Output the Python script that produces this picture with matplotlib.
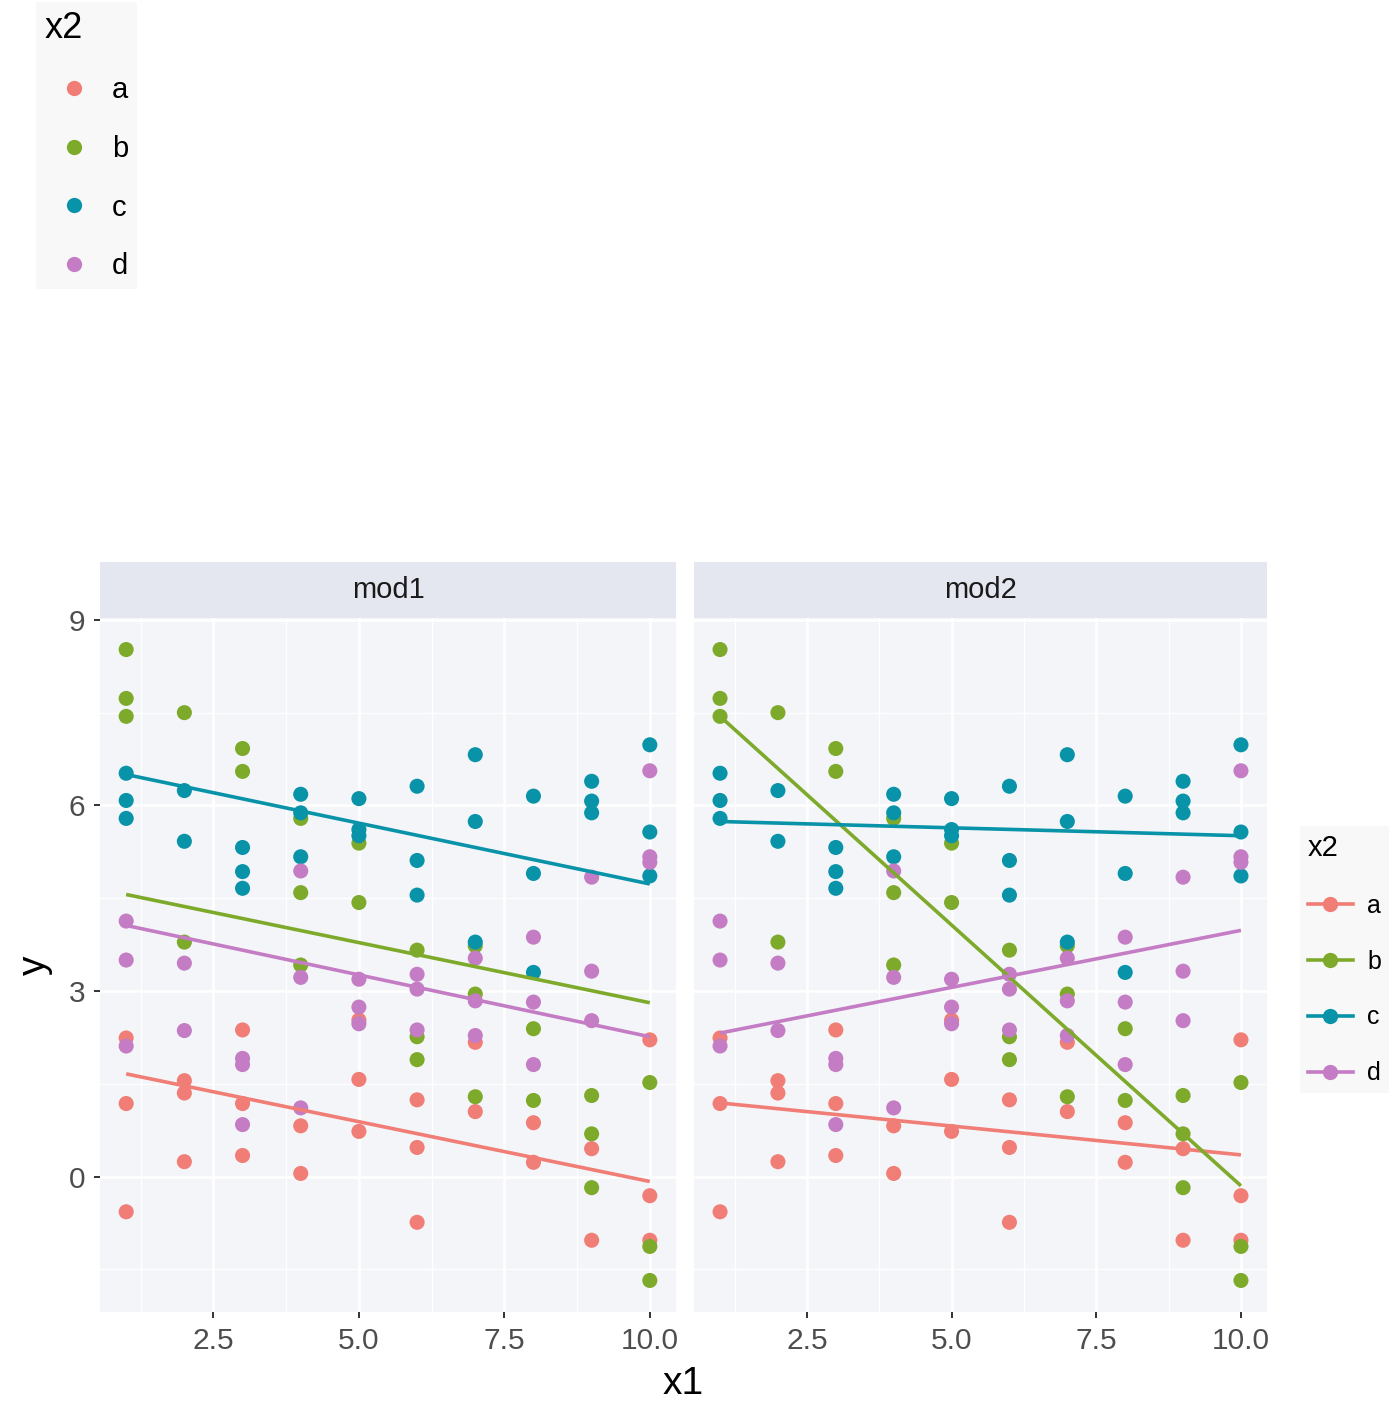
import matplotlib.pyplot as plt
from matplotlib.lines import Line2D

plt.rcParams['font.family'] = ['Liberation Sans', 'DejaVu Sans']

W, H = 1398, 1401

groups = ['a', 'b', 'c', 'd']
colors = ['#F07E76', '#7EAA2C', '#0993A9', '#C47DC4']
models = ['mod1', 'mod2']

# observations per group (x1, y)
a_x = [1, 1, 1, 2, 2, 2, 3, 3, 3, 4, 4, 5, 5, 5, 6, 6, 6, 7, 7, 8, 8, 9, 9, 10, 10, 10]
a_y = [2.24, 1.18, -0.57, 1.55, 1.35, 0.24, 2.37, 1.18, 0.34, 0.82, 0.05, 2.53, 1.57, 0.73,
       1.24, 0.47, -0.74, 2.17, 1.05, 0.87, 0.23, 0.45, -1.03, 2.21, -0.31, -1.03]
b_x = [1, 1, 1, 2, 2, 3, 3, 4, 4, 4, 5, 5, 6, 6, 6, 7, 7, 7, 8, 8, 9, 9, 9, 10, 10, 10]
b_y = [8.52, 7.73, 7.44, 7.50, 3.79, 6.92, 6.55, 5.79, 4.59, 3.42, 5.39, 4.43, 3.66, 2.26, 1.89,
       3.73, 2.95, 1.29, 2.39, 1.23, 1.31, 0.69, -0.18, 1.52, -1.13, -1.68]
c_x = [1, 1, 1, 2, 2, 3, 3, 3, 4, 4, 4, 5, 5, 5, 6, 6, 6, 7, 7, 7, 8, 8, 8, 9, 9, 9, 10, 10, 10]
c_y = [6.52, 6.08, 5.79, 6.24, 5.42, 5.32, 4.93, 4.66, 6.18, 5.88, 5.17, 6.11, 5.61, 5.51,
       6.31, 5.11, 4.55, 6.82, 5.74, 3.79, 6.15, 4.90, 3.30, 6.39, 6.07, 5.88, 6.98, 5.57, 4.86]
d_x = [1, 1, 1, 2, 2, 3, 3, 3, 4, 4, 4, 5, 5, 5, 6, 6, 6, 7, 7, 7, 8, 8, 8, 9, 9, 9, 10, 10, 10]
d_y = [4.13, 3.50, 2.11, 3.45, 2.36, 1.91, 1.81, 0.84, 4.94, 3.22, 1.11, 3.19, 2.74, 2.47,
       3.27, 3.03, 2.37, 3.53, 2.84, 2.28, 3.87, 2.82, 1.81, 4.84, 3.32, 2.52, 6.56, 5.17, 5.08]

xs = [a_x, b_x, c_x, d_x]
ys = [a_y, b_y, c_y, d_y]

# fitted values at x1 = 1 and x1 = 10, per group (a, b, c, d)
fit_x = [1, 10]
mod1_start = [1.66, 4.56, 6.50, 4.06]
mod1_end = [-0.08, 2.81, 4.73, 2.26]
mod2_start = [1.19, 7.44, 5.74, 2.32]
mod2_end = [0.35, -0.15, 5.51, 3.98]
fits = {'mod1': (mod1_start, mod1_end), 'mod2': (mod2_start, mod2_end)}

x_ticks = [2.5, 5.0, 7.5, 10.0]
x_labels = ['2.5', '5.0', '7.5', '10.0']
y_ticks = [0, 3, 6, 9]


def fx(px):
    return px / W


def fy(py):
    return 1 - py / H


fig = plt.figure(figsize=(W / 100, H / 100), dpi=100)
fig.patch.set_facecolor('white')

panel_bg = '#F4F5F9'
strip_bg = '#E4E7EF'
panels = [(100, 676), (694, 1267)]
top, bottom, strip_top = 618, 1312, 562

for i, (m, (l, r)) in enumerate(zip(models, panels)):
    ax = fig.add_axes([fx(l), fy(bottom), fx(r - l), (bottom - top) / H])
    ax.set_facecolor(panel_bg)
    ax.set_xlim(0.55, 10.45)
    ax.set_ylim(-2.19, 9.03)
    ax.set_xticks(x_ticks)
    ax.set_xticklabels(x_labels)
    ax.set_xticks([1.25, 3.75, 6.25, 8.75], minor=True)
    ax.set_yticks(y_ticks)
    ax.set_yticks([-1.5, 1.5, 4.5, 7.5], minor=True)
    ax.grid(which='major', color='white', lw=1.8)
    ax.grid(which='minor', color='white', lw=0.9)
    ax.set_axisbelow(True)
    for s in ax.spines.values():
        s.set_visible(False)
    ax.tick_params(which='major', length=4.5, width=1.4, color='#333333',
                   labelcolor='#4D4D4D', labelsize=21.5, pad=6)
    ax.tick_params(which='minor', length=0)
    if i > 0:
        ax.tick_params(axis='y', left=False, labelleft=False)

    for gx, gy, c in zip(xs, ys, colors):
        ax.scatter(gx, gy, s=118, color=c, edgecolors='none', zorder=2)
    start, end = fits[m]
    for s0, s1, c in zip(start, end, colors):
        ax.plot(fit_x, [s0, s1], color=c, lw=2.6, zorder=3, solid_capstyle='butt')

    sax = fig.add_axes([fx(l), fy(top), fx(r - l), (top - strip_top) / H])
    sax.set_facecolor(strip_bg)
    sax.set_xticks([])
    sax.set_yticks([])
    for s in sax.spines.values():
        s.set_visible(False)
    sax.text(0.5, 0.5, m, ha='center', va='center', fontsize=21, color='#1A1A1A',
             transform=sax.transAxes)

fig.text(fx(683), fy(1384), 'x1', ha='center', va='center', fontsize=28)
fig.text(fx(35), fy(965), 'y', ha='center', va='center', fontsize=28, rotation=90)

# legend with points only, top left
pt_handles = [Line2D([0], [0], ls='none', marker='o', markersize=11, color=c,
                     markeredgewidth=0) for c in colors]
leg1 = fig.legend(pt_handles, groups, title='x2', loc='upper left',
                  bbox_to_anchor=(fx(36), fy(2)), frameon=True, facecolor='#F7F7F7',
                  edgecolor='none', fontsize=21, title_fontsize=26, handlelength=2.0,
                  handletextpad=0.3, labelspacing=1.05, alignment='left', borderpad=0.3,
                  borderaxespad=0)
leg1.get_frame().set_boxstyle('square', pad=0)

# legend with line + point keys, right side
ln_handles = [Line2D([0], [0], color=c, lw=2.6, marker='o', markersize=11,
                     markeredgewidth=0) for c in colors]
leg2 = fig.legend(ln_handles, groups, title='x2', loc='upper left',
                  bbox_to_anchor=(fx(1300), fy(826)), frameon=True, facecolor='#F7F7F7',
                  edgecolor='none', fontsize=18, title_fontsize=21, handlelength=1.8,
                  handletextpad=0.6, labelspacing=1.28, alignment='left', borderpad=0.3,
                  borderaxespad=0)
leg2.get_frame().set_boxstyle('square', pad=0)

fig.savefig('out.png', dpi=100)
